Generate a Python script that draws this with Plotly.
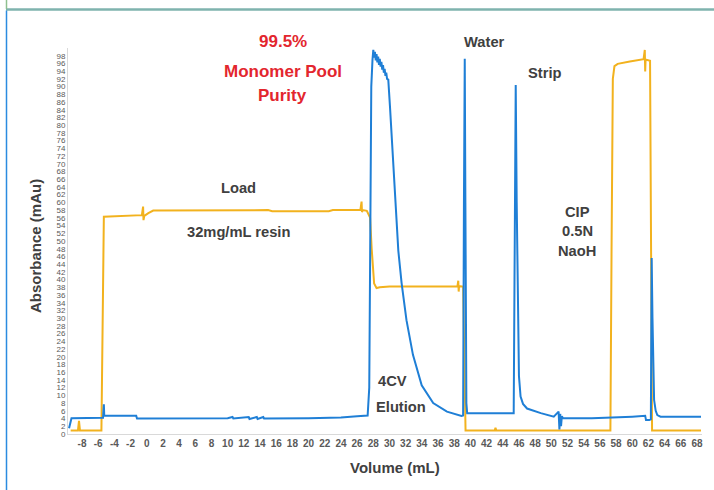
import plotly.graph_objects as go

# ---- data ----
uv_x = [-9.6, -9.36, -9.3, -5.4, -5.3, -5.25, -5.15, -1.3, -1.2, 0, 5, 10, 10.6, 10.7, 12.6, 12.7, 13.6, 13.7, 14.4, 14.5,
        20, 24, 26, 27.0, 27.3, 27.5, 27.6, 27.75, 27.9, 28.0, 28.1, 28.2, 28.3, 28.4, 28.5, 28.6, 28.7, 28.8, 28.9,
        29.0, 29.1, 29.2, 29.3, 29.4, 29.5, 29.6, 29.7, 29.85, 30.06, 30.27, 30.68, 31.09, 31.5, 32.1, 32.9, 33.98,
        35.4, 37.1, 38.9, 39.1, 39.2, 39.3, 39.38, 39.5, 39.6, 42, 45.35, 45.45, 45.6, 45.72, 45.85, 46.0, 46.2,
        46.5, 47.0, 48.7, 50.3, 50.9, 51.0, 51.1, 51.2, 51.3, 51.45, 55, 60, 61.4, 61.6, 61.7, 62.1, 62.3, 62.4,
        62.5, 62.6, 62.7, 62.9, 63.1, 63.5, 66, 68.5]
uv_y = [1.5, 4.1, 4.1, 4.2, 7.7, 4.7, 4.7, 4.7, 4.0, 4.0, 4.1, 4.1, 4.4, 4.0, 4.4, 3.9, 4.4, 3.9, 4.4, 4.0,
        4.1, 4.3, 4.6, 4.7, 4.8, 12, 50, 90, 97, 99.5, 97.5, 99, 96.8, 98.4, 96.3, 97.8, 95.6, 97.2, 95.2,
        96.4, 94.4, 95.6, 93.6, 94.6, 92.8, 93.6, 92.0, 91.8, 84.8, 77.5, 61.5, 47.5, 39.0, 29.5, 20.5, 12.6,
        8.0, 5.8, 4.7, 4.8, 60, 97.2, 60, 8, 5.4, 5.4, 5.4, 40, 90.4, 60, 30, 15, 9.7,
        7.8, 6.6, 5.4, 4.5, 5.8, 1.2, 5.2, 2.0, 4.6, 4.1, 4.1, 4.5, 4.7, 4.7, 3.6, 3.6, 3.8, 45.6,
        30, 15, 8.8, 6.0, 4.9, 4.5, 4.5, 4.5]

cond_x = [-9.4, -8.5, -8.37, -8.25, -5.6, -5.45, -5.3, -0.6, -0.45, -0.4, -0.3, 0.2, 0.8, 15, 15.5, 22.5, 23,
          26.4, 26.55, 26.6, 26.7, 27.2, 27.6, 27.8, 28.1, 28.4, 28.8, 30, 38.4, 38.5, 38.55, 38.6, 39.1, 39.25,
          39.4, 43.0, 43.1, 43.2, 57.3, 57.45, 57.6, 57.8, 58.2, 59.7, 61.4, 61.55, 61.6, 61.65, 62.2, 62.3,
          62.45, 68.5]
cond_y = [0.9, 0.9, 3.4, 0.9, 0.9, 30, 56.3, 56.7, 58.9, 55.4, 56.5, 57.2, 57.9, 58.0, 57.7, 57.7, 58.0,
          58.0, 60.2, 57.5, 58.0, 57.8, 56.1, 48, 39.0, 37.8, 38.0, 38.2, 38.3, 39.7, 36.9, 38.3, 38.2, 20,
          0.9, 0.9, 1.6, 0.9, 0.9, 50, 92, 95.3, 95.9, 96.5, 97.1, 99.5, 93.9, 97.0, 96.7, 50,
          0.9, 0.9]

x_ticks = list(range(-8, 69, 2))
x_labels = [str(v) for v in x_ticks]
y_ticks = list(range(0, 99, 2))
y_labels = [str(v) for v in y_ticks]

BLUE = "#1F7FD6"
YELLOW = "#F2B21E"
DARK = "#404040"
RED = "#E3262E"
FONT = "Liberation Sans, Arial, sans-serif"

fig = go.Figure()
fig.add_trace(go.Scatter(x=cond_x, y=cond_y, mode="lines",
                         line=dict(color=YELLOW, width=2), hoverinfo="skip"))
fig.add_trace(go.Scatter(x=uv_x, y=uv_y, mode="lines",
                         line=dict(color=BLUE, width=2), hoverinfo="skip"))

W, H = 714, 490
L, R, T, B = 68, 12, 48, 56
pw, ph = W - L - R, H - T - B


def px(xp):
    return (xp - L) / pw


def py(yp):
    return (H - B - yp) / ph


fig.update_layout(
    width=W, height=H,
    margin=dict(l=L, r=R, t=T, b=B, pad=0),
    paper_bgcolor="white", plot_bgcolor="white",
    showlegend=False,
    font=dict(family=FONT, color=DARK),
    xaxis=dict(range=[-9.73, 68.62], tickvals=x_ticks, ticktext=x_labels, showgrid=False, zeroline=False,
               showline=True, linecolor="#D9D9D9", linewidth=1, ticks="",
               tickfont=dict(size=10, color="#595959", family=FONT, weight="bold")),
    yaxis=dict(range=[0, 100], tickvals=y_ticks, ticktext=y_labels, showgrid=False, zeroline=False,
               showline=True, linecolor="#D9D9D9", linewidth=1, ticks="",
               tickfont=dict(size=8, color="#595959", family=FONT)),
)

# annotations placed by page pixel position (x px, y px)
anns = [
    ("99.5%", 282.7, 41.7, RED, 17),
    ("Monomer Pool", 282.7, 71.7, RED, 17),
    ("Purity", 282.7, 95.0, RED, 17),
    ("Load", 238.3, 188.3, DARK, 14.7),
    ("32mg/mL resin", 238.3, 232.3, DARK, 14.7),
    ("Water", 484.0, 42.3, DARK, 14.7),
    ("Strip", 544.0, 72.7, DARK, 14.7),
    ("CIP", 577.3, 211.7, DARK, 14.7),
    ("0.5N", 577.3, 231.0, DARK, 14.7),
    ("NaoH", 577.3, 250.7, DARK, 14.7),
    ("4CV", 392.5, 380.5, DARK, 14.7),
    ("Elution", 400.5, 406.7, DARK, 14.7),
    ("Volume (mL)", 395.0, 467.7, DARK, 15),
]
for t, x, y, c, s in anns:
    fig.add_annotation(text=t, x=px(x), y=py(y), xref="paper", yref="paper", showarrow=False,
                       xanchor="center", yanchor="middle",
                       font=dict(size=s, color=c, family=FONT, weight="bold"))

fig.add_annotation(text="Absorbance (mAu)", x=px(35), y=py(246), xref="paper", yref="paper",
                   showarrow=False, xanchor="center", yanchor="middle", textangle=-90,
                   font=dict(size=15, color=DARK, family=FONT, weight="bold"))

# page frame lines
fig.add_shape(type="line", xref="paper", yref="paper", x0=px(6), x1=px(714), y0=py(9.5), y1=py(9.5),
              line=dict(color="#7FB3AE", width=2.5))
fig.add_shape(type="line", xref="paper", yref="paper", x0=px(6.5), x1=px(6.5), y0=py(10.5), y1=py(490),
              line=dict(color="#2B8BE0", width=1.5))
fig.add_shape(type="line", xref="paper", yref="paper", x0=px(6.5), x1=px(6.5), y0=py(0), y1=py(9),
              line=dict(color="#8FC08F", width=1.5))

fig.write_html("out.html")
